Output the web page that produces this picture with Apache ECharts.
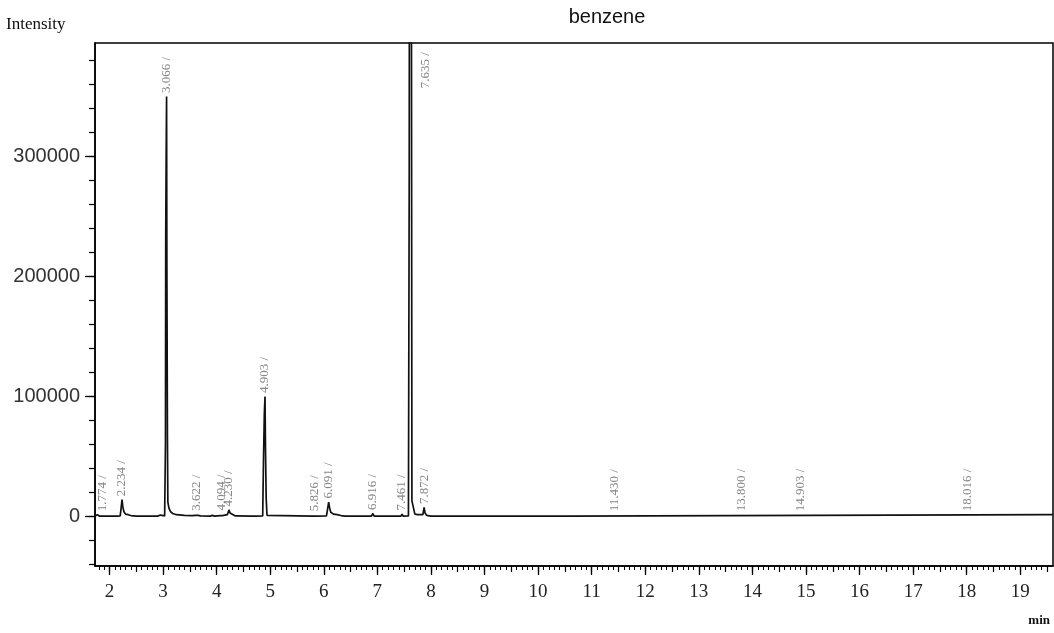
<!DOCTYPE html>
<html>
<head>
<meta charset="utf-8">
<script src="https://cdn.jsdelivr.net/npm/echarts@6/dist/echarts.min.js"></script>
<style>
  html, body { margin: 0; padding: 0; background: #fff; }
  #chart { width: 1054px; height: 633px; }
</style>
</head>
<body>
<div id="chart"></div>
<script>
// ---- Chromatogram trace (retention time in min, intensity) ----
const traceTimes = [
  1.73, 1.76, 1.774, 1.79, 1.82,
  2.15, 2.20, 2.215, 2.234, 2.25, 2.27, 2.30, 2.35, 2.40, 2.50,
  2.90, 2.95, 2.98, 3.03, 3.045, 3.05, 3.058, 3.066, 3.072, 3.082, 3.09, 3.11, 3.14, 3.18, 3.25, 3.40, 3.55,
  3.60, 3.622, 3.65, 3.70, 3.88, 3.92, 3.96,
  4.07, 4.094, 4.11, 4.20, 4.23, 4.25, 4.28, 4.35,
  4.66, 4.69, 4.72, 4.86, 4.875, 4.89, 4.903, 4.912, 4.925, 4.94, 4.97,
  5.80, 5.826, 5.85,
  6.05, 6.07, 6.091, 6.11, 6.13, 6.18, 6.25, 6.32, 6.40,
  6.89, 6.916, 6.94,
  7.44, 7.461, 7.48, 7.58, 7.595, 7.605, 7.612, 7.635, 7.645, 7.652, 7.665, 7.68, 7.70, 7.75,
  7.85, 7.872, 7.89, 7.92, 8.00,
  9.83, 9.857, 9.88, 10.08, 10.10, 10.12, 10.22, 10.24, 10.26, 10.31, 10.33, 10.35, 10.58, 10.59, 19.61
];
const traceIntensity = [
  300, 500, 1500, 500, 300,
  300, 500, 6000, 14000, 8000, 4000, 2000, 1500, 800, 300,
  300, 1200, 300, 500, 60000, 232000, 300000, 350000, 205000, 65000, 12000, 7000, 4000, 2500, 1500, 1000, 800,
  1000, 1800, 1000, 500, 300, 900, 300,
  800, 2000, 800, 1500, 5500, 3000, 1500, 500,
  300, 1000, 300, 500, 48000, 85000, 100000, 57000, 15000, 1000, 300,
  300, 1500, 300,
  500, 6000, 12000, 7000, 3500, 2000, 1500, 800, 300,
  300, 2500, 300,
  300, 2000, 300, 500, 290000, 290000, 1500000, 1500000, 13000, 13000, 13000, 13000, 2000, 1500,
  1500, 7500, 3000, 1000, 300,
  300, 900, 300, 300, 900, 300, 300, 900, 300, 300, 900, 300, 300, 1500, 1500
];

// ---- Peak annotations ----
const peakTimes = [1.774, 2.234, 3.066, 3.622, 4.094, 4.230, 4.903, 5.826, 6.091, 6.916, 7.461, 7.635, 7.872, 11.430, 13.800, 14.903, 18.016];
const peakLabels = ['1.774 /', '2.234 /', '3.066 /', '3.622 /', '4.094 /', '4.230 /', '4.903 /', '5.826 /', '6.091 /', '6.916 /', '7.461 /', '7.635 /', '7.872 /', '11.430 /', '13.800 /', '14.903 /', '18.016 /'];
const peakLabelBase = [1500, 14000, 350000, 1800, 2000, 5500, 100000, 1500, 12000, 2500, 2000, 354000, 7500, 1500, 1500, 1500, 1500];

// ---- Axis ticks / labels ----
const xLabelValues = [2, 3, 4, 5, 6, 7, 8, 9, 10, 11, 12, 13, 14, 15, 16, 17, 18, 19];
const yLabelValues = [0, 100000, 200000, 300000];
const xMin = 1.73, xMax = 19.61;
const yMin = -41250, yMax = 394600;

const xHalfTicks = [];
for (let v = 2; v <= 19.5; v += 0.5) xHalfTicks.push(+v.toFixed(1));
const xMinorTicks = [];
for (let v = 1.8; v <= 19.6; v += 0.1) xMinorTicks.push(+v.toFixed(1));
const yMinorTicks = [];
for (let v = -40000; v <= 380000; v += 20000) yMinorTicks.push(v);

// sideways label nudges (pixels) for labels that sit beside crowded marks
const labelNudge = { '1.774 /': 5, '7.635 /': 14 };

const trace = traceTimes.map((t, i) => [t, traceIntensity[i]]);
const labelData = peakTimes.map((t, i) => {
  const item = { value: [t, peakLabelBase[i]], name: peakLabels[i] };
  if (labelNudge[peakLabels[i]]) item.label = { offset: [0, labelNudge[peakLabels[i]]] };
  return item;
});

const axisLineStyle = { color: '#000', width: 1.5 };

const chart = echarts.init(document.getElementById('chart'), null, { renderer: 'canvas' });
chart.setOption({
  animation: false,
  backgroundColor: '#fff',
  title: {
    text: 'benzene',
    left: 602, top: 2, textAlign: 'center',
    textStyle: { fontFamily: 'Liberation Sans', fontSize: 20, fontWeight: 'normal', color: '#111' }
  },
  graphic: [
    { type: 'text', left: 6, top: 16, style: { text: 'Intensity', font: '17px "Liberation Serif"', fill: '#111' } },
    { type: 'text', right: 4, top: 614, style: { text: 'min', font: 'bold 13px "Liberation Serif"', fill: '#111' } }
  ],
  grid: {
    left: 95, right: 1, top: 43, bottom: 67,
    show: true, borderColor: '#000', borderWidth: 1.5, backgroundColor: '#fff'
  },
  xAxis: [
    {
      type: 'value', min: xMin, max: xMax, position: 'bottom',
      axisLine: { show: true, onZero: false, lineStyle: axisLineStyle },
      axisTick: { show: true, customValues: xLabelValues, length: 9, lineStyle: { color: '#000', width: 1.3 } },
      axisLabel: { show: true, customValues: xLabelValues, margin: 17, fontFamily: 'Liberation Serif', fontSize: 19, color: '#222' },
      splitLine: { show: false }
    },
    {
      type: 'value', min: xMin, max: xMax, position: 'bottom',
      axisLine: { show: false, onZero: false },
      axisTick: { show: true, customValues: xHalfTicks, length: 6, lineStyle: { color: '#000', width: 1.2 } },
      axisLabel: { show: false },
      splitLine: { show: false }
    },
    {
      type: 'value', min: xMin, max: xMax, position: 'bottom',
      axisLine: { show: false, onZero: false },
      axisTick: { show: true, customValues: xMinorTicks, length: 4, lineStyle: { color: '#000', width: 1 } },
      axisLabel: { show: false },
      splitLine: { show: false }
    }
  ],
  yAxis: [
    {
      type: 'value', min: yMin, max: yMax, position: 'left',
      axisLine: { show: true, onZero: false, lineStyle: axisLineStyle },
      axisTick: { show: true, customValues: yLabelValues, length: 10, lineStyle: { color: '#000', width: 1.3 } },
      axisLabel: {
        show: true, customValues: yLabelValues, margin: 15,
        formatter: v => String(v),
        fontFamily: 'Liberation Sans', fontSize: 20, color: '#333'
      },
      splitLine: { show: false }
    },
    {
      type: 'value', min: yMin, max: yMax, position: 'left',
      axisLine: { show: false, onZero: false },
      axisTick: { show: true, customValues: yMinorTicks, length: 6, lineStyle: { color: '#000', width: 1.2 } },
      axisLabel: { show: false },
      splitLine: { show: false }
    }
  ],
  series: [
    {
      type: 'line', xAxisIndex: 0, yAxisIndex: 0,
      data: trace, showSymbol: false, clip: true,
      lineStyle: { color: '#111', width: 1.7 },
      z: 3
    },
    {
      type: 'scatter', xAxisIndex: 0, yAxisIndex: 0,
      data: labelData, symbolSize: 1, itemStyle: { color: 'rgba(0,0,0,0)' },
      label: {
        show: true, position: 'top', distance: 3, rotate: 90,
        align: 'left', verticalAlign: 'middle',
        formatter: p => p.name,
        fontFamily: 'Liberation Serif', fontSize: 13, color: '#666'
      },
      silent: true, z: 4
    }
  ]
});
</script>
</body>
</html>
